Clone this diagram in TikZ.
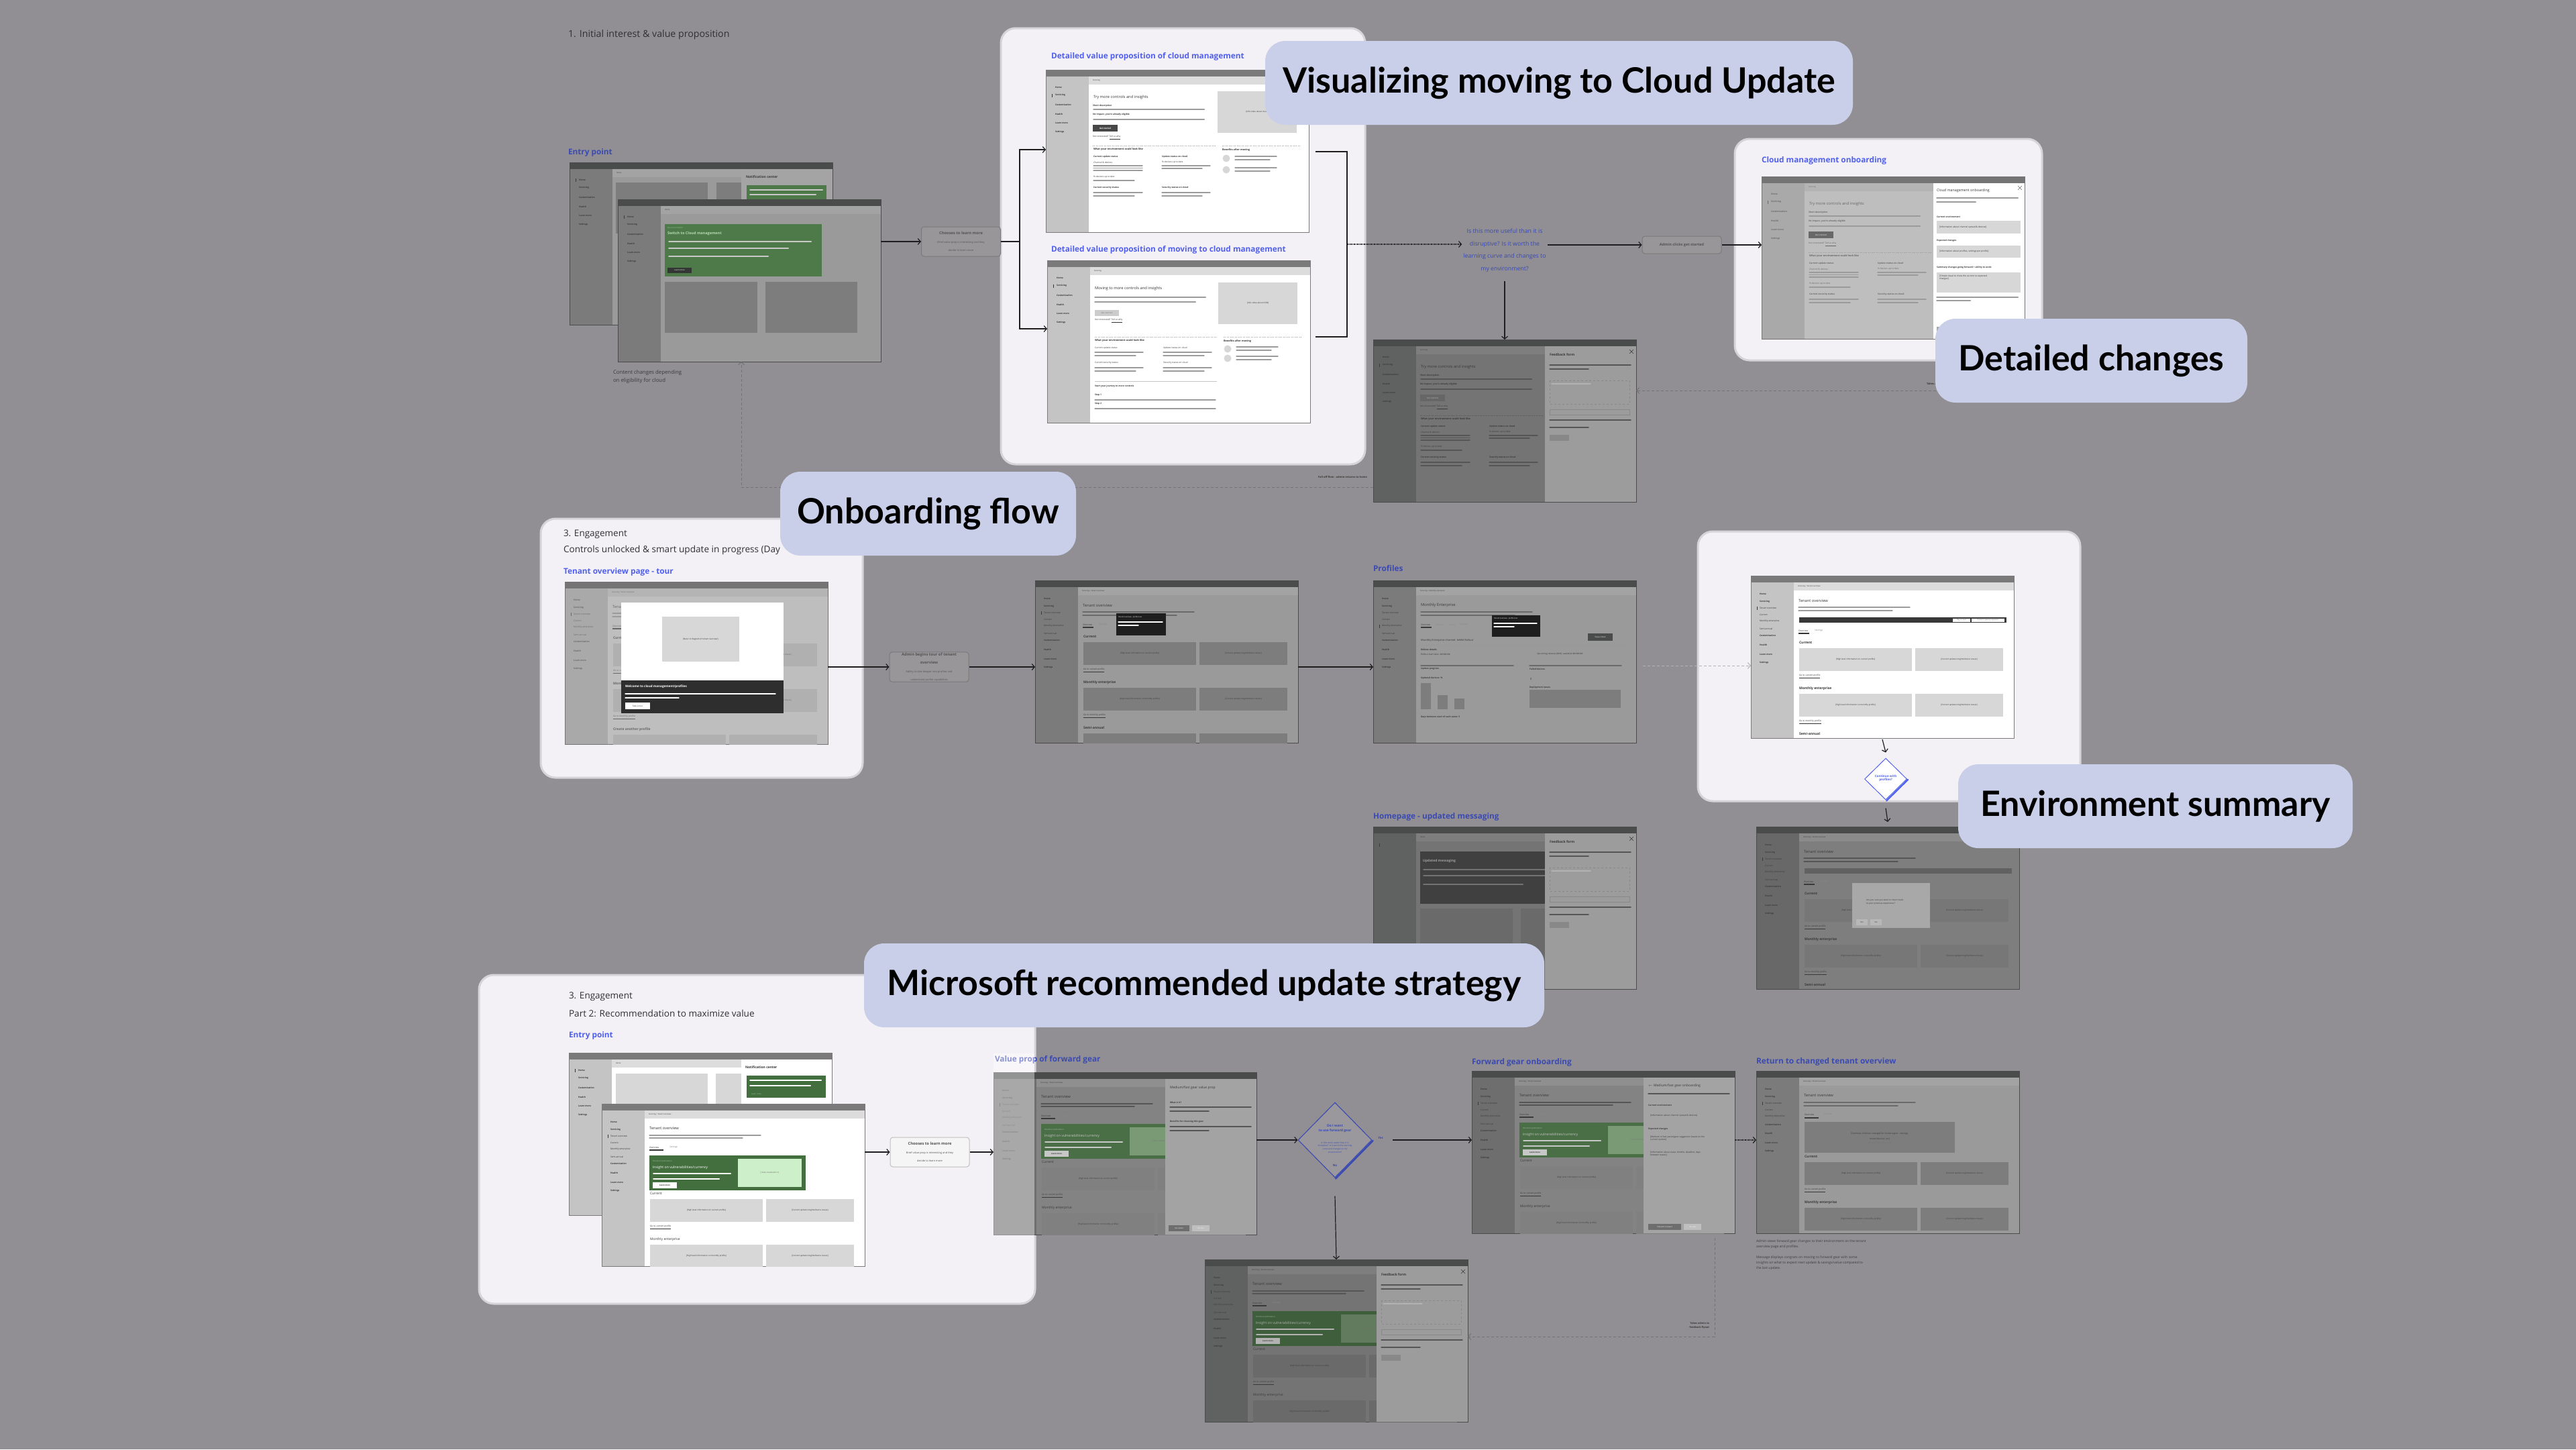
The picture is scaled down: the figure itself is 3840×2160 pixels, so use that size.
\documentclass[tikz,border=0pt]{standalone}
\usepackage{fontspec}
\setmainfont{Open Sans}
\newfontfamily\callfont{Lato}
\usetikzlibrary{arrows.meta,shapes.geometric}

\definecolor{bgc}{HTML}{918F93}
\definecolor{panelc}{HTML}{F4F1F6}
\definecolor{panelb}{HTML}{D6D4D9}
\definecolor{callc}{HTML}{C9CFE8}
\definecolor{blueD}{HTML}{3A4AB2}
\definecolor{blueB}{HTML}{5060EE}
\definecolor{hdC}{HTML}{303030}
\definecolor{lineC}{HTML}{1E1E1E}
\definecolor{dTitle}{HTML}{4A4C4C}
\definecolor{dSide}{HTML}{7B7B7B}
\definecolor{dCont}{HTML}{9A9A9A}
\definecolor{dCrumb}{HTML}{A3A3A3}
\definecolor{dBox}{HTML}{7D7D7D}
\definecolor{dText}{HTML}{3A3A3A}
\definecolor{dBar}{HTML}{6A6A6A}
\definecolor{nCol}{HTML}{A4A4A4}
\definecolor{bTitle}{HTML}{7A7A7A}
\definecolor{bSide}{HTML}{C4C4C4}
\definecolor{bCrumb}{HTML}{DCDCDC}
\definecolor{bBox}{HTML}{D7D7D7}
\definecolor{bText}{HTML}{333333}
\definecolor{barB}{HTML}{9C9C9C}
\definecolor{oTitle}{HTML}{747474}
\definecolor{oSide}{HTML}{A9A9A9}
\definecolor{oCont}{HTML}{BEBEBE}
\definecolor{oCrumb}{HTML}{B4B4B4}
\definecolor{oBox}{HTML}{B0B0B0}
\definecolor{oText}{HTML}{686868}
\definecolor{oBar}{HTML}{9A9A9A}
\definecolor{fSide}{HTML}{606262}
\definecolor{fCont}{HTML}{747474}
\definecolor{fCrumb}{HTML}{7E7E7E}
\definecolor{fBox}{HTML}{6A6A6A}
\definecolor{fBar}{HTML}{555555}
\definecolor{fFly}{HTML}{9C9C9C}
\definecolor{gSide}{HTML}{6E6E6E}
\definecolor{gCont}{HTML}{838383}
\definecolor{gFly}{HTML}{A3A3A3}
\definecolor{cSide}{HTML}{686868}
\definecolor{cCont}{HTML}{7E7E7E}
\definecolor{cBox}{HTML}{777777}
\definecolor{greenD}{HTML}{4E7A49}
\definecolor{greenB}{HTML}{436E3E}
\definecolor{greenL}{HTML}{CDEFC9}
\definecolor{greenG}{HTML}{4A6E45}
\definecolor{greenGL}{HTML}{7A9A76}
\definecolor{wbar}{HTML}{C9C9C9}
\definecolor{ttip}{HTML}{1E1E1E}
\definecolor{fbText}{HTML}{555555}

\newcommand{\fs}[2]{\fontsize{#1}{#2}\selectfont}
\newcommand{\gb}[4]{\draw[line width=2pt, line cap=round, #4] (#1,#2) -- ++(#3,0);}
\newcommand{\gbt}[4]{\draw[line width=1.3pt, line cap=round, #4] (#1,#2) -- ++(#3,0);}
\newcommand{\xic}[3]{\draw[#3, line width=0.5pt] ({#1-3},{#2-3}) -- ({#1+3},{#2+3}) ({#1-3},{#2+3}) -- ({#1+3},{#2-3});}
\newcommand{\fbT}{\fontsize{5.8}{7.5}\selectfont\bfseries}
\newcommand{\fbS}{\fontsize{3.9}{6}\selectfont\mdseries}

\tikzset{
  tt/.style={inner sep=0pt, outer sep=0pt, anchor=west, text=#1, font=\fontsize{3.3}{4}\selectfont},
  tt/.default=bText,
  ttb/.style={tt=#1, font=\fontsize{3.3}{4}\selectfont\bfseries},
  ttb/.default=bText,
  ttc/.style={inner sep=0pt, outer sep=0pt, anchor=center, text=#1, font=\fontsize{3}{3.8}\selectfont},
  ttc/.default=bText,
  lbl/.style={inner sep=0pt, outer sep=0pt, anchor=west, text=#1, font=\fontsize{11.8}{13}\selectfont\bfseries},
  panel/.style={fill=panelc, draw=panelb, line width=3pt, rounded corners=22pt},
  flowbox/.style={draw=#1, fill=bgc!94!white, line width=1pt, rounded corners=4pt, minimum width=118pt, minimum height=44pt, align=center, inner sep=1pt, text=fbText},
  flowbox/.default=black!52,
  callout/.style={fill=callc, rounded corners=30pt, inner sep=0pt, text=black, font=\callfont\bfseries\fontsize{52}{58}\selectfont},
  ln/.style={draw=lineC, line width=1.2pt},
  arw/.style={draw=lineC, line width=1.2pt, -{Straight Barb[length=4pt, width=9pt, line width=1.2pt]}},
  arwdot/.style={arw, dash pattern=on 1.5pt off 1pt},
  dsh/.style={draw=#1, line width=1pt, dash pattern=on 4pt off 3pt, -{Straight Barb[length=4pt, width=9pt, line width=1pt]}},
  dsh/.default=black!55,
  qtext/.style={inner sep=2pt, align=center, text=blueD, font=\fontsize{8.8}{18.5}\selectfont},
}

% screen frame: name, x, y, title, side, content
\newcommand{\scr}[6]{%
  \fill[#6] (#2,#3) rectangle ++(392,242);
  \fill[#5] (#2,{#3+10}) rectangle ++(64,232);
  \fill[#4] (#2,#3) rectangle ++(392,10);
  \draw[#4, line width=1pt] (#2,#3) rectangle ++(392,242);
  \node[inner sep=0pt, outer sep=0pt, minimum width=392pt, minimum height=242pt] (#1) at ({#2+196},{#3+121}) {};
}
\newcommand{\crumb}[3]{%
  \fill[#1] (64,10) rectangle (392,22);
  \node[tt=#2, font=\fs{2.6}{3}] at (70,16) {#3};
}
\newcommand{\sideTry}[2]{%
  \foreach \itm/\yy in {Home/26,Servicing/38,Customization/52,Health/66,Learn more/79,Settings/93}
    \node[ttb=#1] at (14,\yy) {\itm};
  \fill[#1] (9,{#2-2.5}) rectangle (10,{#2+2.5});
}
\newcommand{\sideTen}[2]{%
  \foreach \itm/\yy in {Home/27,Servicing/39,Customization/89,Health/103,Learn more/117,Settings/130}
    \node[ttb=#1] at (13,\yy) {\itm};
  \foreach \itm/\yy in {Tenant overview/48,Current/58,Monthly enterprise/68,Semi-annual/79}
    \node[tt=#1] at (13,\yy) {\itm};
  \fill[#1] (9,{#2-2.5}) rectangle (10,{#2+2.5});
}
\newcommand{\sideTenB}[1]{%
  \foreach \itm/\yy in {Home/27,Servicing/39,Customization/80,Health/93,Learn more/107,Settings/120}
    \node[ttb=#1] at (13,\yy) {\itm};
  \foreach \itm/\yy in {Tenant overview/48,Current/58,Monthly enterprise/68}
    \node[tt=#1] at (13,\yy) {\itm};
  \fill[#1] (9,45.5) rectangle (10,50.5);
}
% try body: text, bar, button, box, button text
\newcommand{\trybody}[5]{%
  \node[tt=#1, font=\fs{5.8}{7}] at (71,41) {Try more controls and insights};
  \node[ttb=#1] at (70,54) {Short description};
  \gb{71}{59}{165}{#2}
  \node[ttb=#1] at (70,67) {No impact, you're already eligible};
  \gb{71}{74}{165}{#2}
  \fill[#3] (70,82) rectangle (107,92);
  \node[ttc=#5, font=\fs{3}{3.5}\bfseries] at (88.5,87) {Get started};
  \node[tt=#1] at (70,101) {Not interested? \underline{Tell us why}};
  \fill[#4] (256,32) rectangle (374,94);
  \node[ttc=#1] at (315,63) {[Info video about cloud]};
  \draw[#2, dotted] (70,113) -- (253,113) (263,113) -- (380,113);
  \node[tt=#1, font=\fs{3.8}{4.5}\bfseries] at (71,119) {What your environment could look like};
  \node[tt=#1, font=\fs{3.8}{4.5}\bfseries] at (263,119) {Benefits after moving};
  \node[ttb=#1] at (71,130) {Current update status};
  \node[tt=#1] at (71,138) {Channel \& devices};
  \gbt{71}{143}{73}{#2} \gbt{71}{146.5}{73}{#2} \gbt{71}{150}{73}{#2}
  \node[tt=#1] at (71,160) {\% devices up to date};
  \gbt{71}{165}{61}{#2}
  \node[ttb=#1] at (71,176) {Current security status};
  \gbt{71}{183}{73}{#2} \gbt{71}{188}{61}{#2}
  \node[ttb=#1] at (173,130) {Update status on cloud};
  \node[tt=#1] at (173,138) {\% devices up to date};
  \gbt{173}{143}{72}{#2} \gbt{173}{147}{60}{#2}
  \node[ttb=#1] at (173,176) {Security status on cloud};
  \gbt{173}{183}{72}{#2} \gbt{173}{188}{60}{#2}
  \fill[#4] (269,132) circle (5.5); \fill[#4] (269,149) circle (5.5);
  \gbt{282}{129}{62}{#2} \gbt{282}{134}{52}{#2} \gbt{282}{146}{62}{#2} \gbt{282}{151}{52}{#2}
}
% tenant body: offset, box, text, bar, third heading
\newcommand{\tenbody}[5]{%
  \node[tt=#3, font=\fs{5.8}{7}] at (71,37) {Tenant overview};
  \gbt{71}{47}{166}{#4} \gbt{71}{52}{140}{#4}
  \node[tt=#3] at (71,{66+#1}) {Overview};
  \node[tt=#3!60] at (95,{66+#1}) {Settings};
  \draw[#3, line width=1.2pt] (71,{70+#1}) -- (87,{70+#1});
  \node[tt=#3, font=\fs{5}{6}\bfseries] at (72,{84+#1}) {Current};
  \fill[#2] (72,{92+#1}) rectangle (240,{126+#1});
  \fill[#2] (245,{92+#1}) rectangle (376,{126+#1});
  \node[ttc=#3] at (156,{109+#1}) {[High level information on current profile]};
  \node[ttc=#3] at (310.5,{109+#1}) {[Current update insights/device issues]};
  \node[tt=#3] at (72,{134+#1}) {\underline{Go to current profile}};
  \node[tt=#3, font=\fs{5}{6}\bfseries] at (72,{152+#1}) {Monthly enterprise};
  \fill[#2] (72,{160+#1}) rectangle (240,{194+#1});
  \fill[#2] (245,{160+#1}) rectangle (376,{194+#1});
  \node[ttc=#3] at (156,{177+#1}) {[High level information on monthly profile]};
  \node[ttc=#3] at (310.5,{177+#1}) {[Current update insights/device issues]};
  \node[tt=#3] at (72,{202+#1}) {\underline{Go to monthly profile}};
  \node[tt=#3, font=\fs{5}{6}\bfseries] at (72,{220+#1}) {#5};
  \fill[#2] (72,{228+#1}) rectangle (240,{262+#1});
  \fill[#2] (245,{228+#1}) rectangle (376,{262+#1});
}
% tenant with green banner: box, text, bar, green, lightgreen, whitebar
\newcommand{\tengreen}[6]{%
  \node[tt=#2, font=\fs{5.8}{7}] at (71,36) {Tenant overview};
  \gbt{71}{47}{166}{#3} \gbt{71}{51}{139}{#3}
  \node[tt=#2] at (71,65) {Overview};
  \node[tt=#2!60] at (101,65) {Settings};
  \draw[#2, line width=1.2pt] (71,69) -- (92,69);
  \fill[#4] (71,77) rectangle (304,129);
  \fill[#5] (203,82) rectangle (298,124);
  \node[ttc=#2!70] at (250.5,103) {[ data visualization ]};
  \node[tt=#4!45!white, font=\fs{2.8}{3}] at (76,86) {Potential optimization};
  \node[tt=#6, font=\fs{5.2}{6}] at (76,95) {Insight on vulnerabilities/currency};
  \gb{77}{104}{115}{#6} \gb{77}{112}{98}{#6}
  \fill[#6] (76,117) rectangle (112,126);
  \node[ttc=#2, font=\fs{2.8}{3}\bfseries] at (94,121.5) {Learn more};
  \node[tt=#2, font=\fs{5}{6}] at (72,134) {Current};
  \fill[#1] (72,142) rectangle (240,176);
  \fill[#1] (245,142) rectangle (376,176);
  \node[ttc=#2] at (156,159) {[High level information on current profile]};
  \node[ttc=#2] at (310.5,159) {[Current update insights/device issues]};
  \node[tt=#2] at (72,184) {\underline{Go to current profile}};
  \node[tt=#2, font=\fs{5}{6}] at (72,202) {Monthly enterprise};
  \fill[#1] (72,210) rectangle (240,244);
  \fill[#1] (245,210) rectangle (376,244);
  \node[ttc=#2] at (156,227) {[High level information on monthly profile]};
  \node[ttc=#2] at (310.5,227) {[Current update insights/device issues]};
}
% feedback flyout: fill, text, bar
\newcommand{\fbfly}[3]{%
  \fill[#1] (256,10) rectangle (392,242);
  \node[tt=#2, font=\fs{5}{6}\bfseries] at (263,23) {Feedback form};
  \xic{385}{18}{#2}
  \gbt{263}{38}{121}{#3} \gbt{263}{44}{58}{#3}
  \draw[#3!70, dashed, line width=0.4pt] (263,61) rectangle (382,96);
  \gbt{266}{66}{58}{#3!45}
  \draw[#3!70, line width=0.4pt] (263,104) rectangle (382,112);
  \gbt{263}{120}{121}{#3} \gbt{263}{131}{58}{#3}
  \fill[#3!70] (263,142) rectangle (292,151);
  \node[ttc=#2!60, font=\fs{2.8}{3}] at (277.5,146.5) {Submit};
}

\begin{document}
\begin{tikzpicture}[x=1pt,y=-1pt]
\useasboundingbox (0,0) rectangle (3840,2160);
\fill[bgc] (0,0) rectangle (3840,2160);

% ================= panels
\path[panel] (1492,42) rectangle (2035,692);
\path[panel] (2586,207) rectangle (3044,537);
\path[panel] (806,773) rectangle (1286,1159);
\path[panel] (2531,792) rectangle (3101,1194);
\path[panel] (714,1453) rectangle (1543,1943);

% ================= section 1
\node[tt=hdC, font=\fs{14.2}{16}] (hdr1) at (847,52) {1. Initial interest \& value proposition};
\node[lbl=blueD] (lb1) at (847,227) {Entry point};

\scr{w1}{849}{242}{dTitle}{dSide}{dCont}
\begin{scope}[shift={(849,242)}]
  \clip (0,0) rectangle (392,242);
  \crumb{dCrumb}{dText}{Home}
  \sideTry{dText}{26}
  \fill[dBox] (69,30) rectangle (206,106);
  \fill[dBox] (219,30) rectangle (256,106);
  \fill[nCol] (256,10) rectangle (392,242);
  \node[tt=dText, font=\fs{5}{6}\bfseries] at (263,22) {Notification center};
  \fill[greenD] (264,34) rectangle (383,62);
  \gb{269}{41}{108}{wbar}
  \gb{269}{48}{98}{wbar}
\end{scope}

\scr{w2}{921}{297}{dTitle}{dSide}{dCont}
\begin{scope}[shift={(921,297)}]
  \clip (0,0) rectangle (392,242);
  \crumb{dCrumb}{dText}{Home}
  \sideTry{dText}{26}
  \fill[greenD] (70,37) rectangle (304,115);
  \node[tt=greenL!60!greenD, font=\fs{2.8}{3}] at (74,42) {Recommendation};
  \node[tt=greenL!80!greenD, font=\fs{5.5}{6.5}\bfseries] at (74,51) {Switch to Cloud management};
  \gb{76}{63}{212}{wbar} \gb{76}{73}{178}{wbar} \gb{76}{85}{148}{wbar}
  \fill[dTitle!70!black] (74,102) rectangle (110,110);
  \node[ttc=white!65, font=\fs{2.8}{3}] at (92,106) {Learn more};
  \fill[dBox] (70,123) rectangle (208,199);
  \fill[dBox] (220,123) rectangle (357,199);
\end{scope}

\node[tt=dText, font=\fs{7.8}{11.8}, anchor=north west, align=left] (note1) at (914,552) {Content changes depending\\on eligibility for cloud};

\node[flowbox] (b1) at (1432.5,360) {\fbT Chooses to learn more\\[1pt]\fbS Brief value prop is interesting and they\\\fbS decide to learn more};
\draw[arw] (b1.west -| w2.east) -- (b1.west);

% value proposition panel
\node[lbl=blueB] (lb2) at (1567,84) {Detailed value proposition of cloud management};
\scr{s1}{1559}{104}{bTitle}{bSide}{white}
\begin{scope}[shift={(1559,104)}]
  \clip (0,0) rectangle (392,242);
  \crumb{bCrumb}{bText}{Servicing}
  \sideTry{bText}{38}
  \trybody{bText}{barB}{black!72}{bBox}{white}
\end{scope}

\node[lbl=blueB] (lb3) at (1567,372) {Detailed value proposition of moving to cloud management};
\scr{s2}{1561}{388}{bTitle}{bSide}{white}
\begin{scope}[shift={(1561,388)}]
  \clip (0,0) rectangle (392,242);
  \crumb{bCrumb}{bText}{Servicing}
  \sideTry{bText}{38}
  \node[tt=bText, font=\fs{5.8}{7}] at (71,42) {Moving to more controls and insights};
  \gb{71}{55}{165}{barB} \gb{71}{62}{150}{barB}
  \fill[black!20] (71,74) rectangle (107,83);
  \node[ttc=bText!50, font=\fs{3}{3.5}\bfseries] at (89,78.5) {Get started};
  \node[tt=bText] at (71,90) {Not interested? \underline{Tell us why}};
  \fill[bBox] (255,33) rectangle (373,95);
  \node[ttc=bText] at (314,64) {[Info video about CDN]};
  \draw[barB, dotted] (71,114) -- (253,114) (263,114) -- (380,114);
  \node[tt=bText, font=\fs{3.8}{4.5}\bfseries] at (71,120) {What your environment could look like};
  \node[tt=bText, font=\fs{3.8}{4.5}\bfseries] at (263,120) {Benefits after moving};
  \node[tt] at (71,131) {Current update status};
  \gbt{71}{137}{72}{barB} \gbt{71}{142}{61}{barB}
  \node[tt] at (71,153) {Current security status};
  \gbt{71}{160}{72}{barB} \gbt{71}{165}{61}{barB}
  \node[tt] at (173,131) {Update status on cloud};
  \gbt{173}{137}{72}{barB} \gbt{173}{142}{61}{barB}
  \node[tt] at (173,153) {Security status on cloud};
  \gbt{173}{160}{72}{barB} \gbt{173}{165}{61}{barB}
  \fill[bBox] (269,132) circle (5.5); \fill[bBox] (269,146) circle (5.5);
  \gbt{282}{129}{62}{barB} \gbt{282}{134}{52}{barB} \gbt{282}{143}{62}{barB} \gbt{282}{148}{52}{barB}
  \draw[barB!60, line width=0.5pt] (71,180) -- (253,180);
  \node[ttb] at (71,188) {Start your journey to more controls};
  \node[ttb] at (71,201) {Step 1};
  \gbt{71}{208}{180}{barB}
  \node[ttb] at (71,214) {Step 2};
  \gbt{71}{221}{180}{barB}
\end{scope}

\coordinate (brL) at (1520,360);
\coordinate (brT) at (1520,223);
\coordinate (brB) at (1520,490);
\draw[ln] (b1.east) -- (brL);
\draw[arw] (brL) -- (brT) -- (brT -| s1.west);
\draw[arw] (brL) -- (brB) -- (brB -| s2.west);
\coordinate (rbT) at (1961,226);
\coordinate (rbB) at (1961,502);
\coordinate (rbM) at (2008,364);
\draw[ln] (rbT) -| (rbM) |- (rbB);

% question
\node[qtext] (q) at (2243,373) {Is this more useful than it is\\disruptive? Is it worth the\\learning curve and changes to\\my environment?};
\draw[arwdot] (rbM) -- (rbM -| q.west);

\node[flowbox, minimum height=26pt, font=\fs{5.5}{6.5}\bfseries] (g1) at (2507,365) {Admin clicks get started};
\draw[arw] (g1.west -| q.east) -- (g1.west);

% cloud onboarding
\node[lbl=blueB] (lb4) at (2626,239) {Cloud management onboarding};
\scr{o1}{2626}{263}{oTitle}{oSide}{oCont}
\begin{scope}[shift={(2626,263)}]
  \clip (0,0) rectangle (392,242);
  \crumb{oCrumb}{oText}{Servicing}
  \sideTry{oText}{38}
  \trybody{oText}{oBar}{oText}{oBox}{oCont}
  \fill[white] (256,10) rectangle (392,242);
  \node[tt=bText, font=\fs{5.3}{6}] at (261,21) {Cloud management onboarding};
  \xic{385}{17}{bText!70}
  \gb{261}{32}{121}{barB} \gb{261}{38}{58}{barB}
  \node[ttb] at (261,60) {Current environment};
  \fill[bBox] (261,66) rectangle (386,85);
  \node[tt] at (265,75.5) {[Information about channel spread \& devices]};
  \node[ttb] at (261,96) {Expected changes};
  \fill[bBox] (261,103) rectangle (386,121);
  \node[tt] at (265,112) {[Information about profiles, settings per profile]};
  \node[ttb] at (261,136) {Summary changes going forward + ability to undo};
  \fill[bBox] (261,143) rectangle (386,173);
  \node[tt, anchor=north west, align=left] at (265,147) {[Simple visual to show the current vs expected\\changes]};
  \gb{261}{180}{121}{barB} \gb{261}{185}{50}{barB}
  \fill[oSide] (261,224) rectangle (292,233);
\end{scope}
\draw[arw] (g1.east) -- (g1.east -| o1.west);

% feedback 1
\scr{fb1}{2047}{506}{dTitle}{fSide}{fCont}
\begin{scope}[shift={(2047,506)}]
  \clip (0,0) rectangle (392,242);
  \crumb{fCrumb}{dText}{Servicing}
  \sideTry{dText}{38}
  \trybody{dText}{fBar}{black!60}{fBox}{fFly}
  \fbfly{fFly}{dText}{fBar}
\end{scope}
\draw[arw] ([yshift=-12pt]q.south) -- (fb1.north);

\node[tt=dText, font=\fs{4}{5}\bfseries, anchor=east] (rh) at (2038,711) {Fall off flow - admin returns to home};
\coordinate (d2) at (1105,726);
\draw[dsh] (d2 -| fb1.west) -- (d2) -- (d2 |- w2.south);

\node[tt=dText, font=\fs{4}{5}\bfseries] (tk1) at (2872,572) {Takes admin to feedback flyout};
\coordinate (d1) at (2900,582);
\draw[dsh] (d1) -- (d1 -| fb1.east);

% ================= middle row
\node[tt=hdC, font=\fs{13.5}{15}] (hdr2) at (840,796) {3. Engagement};
\node[tt=hdC, font=\fs{13.6}{15}] (hdr3) at (840,820) {Controls unlocked \& smart update in progress (Day};
\node[lbl=blueB] (lb5) at (840,852) {Tenant overview page - tour};

\scr{t1}{842}{867}{oTitle}{oSide}{oCont}
\begin{scope}[shift={(842,867)}]
  \clip (0,0) rectangle (392,242);
  \crumb{oCrumb}{oText}{Servicing > Tenant overview}
  \sideTen{oText}{48}
  \tenbody{0}{oBox}{oText}{oBar}{Create another profile}
  \fill[white] (84,31) rectangle (326,147);
  \fill[bBox] (145,52) rectangle (260,119);
  \node[ttc] at (202.5,85.5) {[Basic UI diagram of tenant overview]};
  \fill[black!82] (84,147) rectangle (326,196);
  \node[tt=white, font=\fs{4.6}{5.5}\bfseries] at (90,156) {Welcome to cloud management/profiles};
  \gbt{90}{167}{224}{white} \gbt{90}{173}{80}{white}
  \fill[white] (90,180) rectangle (127,190);
  \node[ttc=bText] at (108.5,185) {Take a tour};
\end{scope}

\node[flowbox] (g2) at (1385,994) {\fbT Admin begins tour of tenant\\\fbT overview\\[1pt]\fbS Ability to dive deeper into profiles and\\\fbS understand profile capabilities};

\scr{t2}{1543}{865}{dTitle}{dSide}{dCont}
\begin{scope}[shift={(1543,865)}]
  \clip (0,0) rectangle (392,242);
  \crumb{dCrumb}{dText}{Servicing > Tenant overview}
  \sideTen{dText}{48}
  \tenbody{0}{dBox}{dText}{dBar}{Semi-annual}
  \fill[ttip] (121,49) rectangle (195,82);
  \node[tt=white!75, font=\fs{2.6}{3}] at (124,55) {Tenant overview - profile tour};
  \gbt{124}{62}{66}{white!65} \gbt{124}{67}{30}{white!65}
\end{scope}

\node[lbl=blueD] (lb6) at (2047,847) {Profiles};
\scr{p1}{2047}{865}{dTitle}{dSide}{dCont}
\begin{scope}[shift={(2047,865)}]
  \clip (0,0) rectangle (392,242);
  \crumb{dCrumb}{dText}{Servicing > Monthly enterprise}
  \sideTen{dText}{68}
  \node[tt=dText, font=\fs{5.8}{7}] at (71,37) {Monthly Enterprise};
  \gbt{71}{47}{166}{dBar} \gbt{71}{52}{140}{dBar}
  \node[tt=dText] at (71,66) {Overview};
  \node[tt=dText!60] at (94,66) {Devices};
  \node[tt=dText!60] at (113,66) {Issues};
  \node[tt=dText!60] at (129,66) {Settings};
  \draw[dText, line width=1.2pt] (71,70) -- (87,70);
  \fill[ttip] (177,52) rectangle (249,84);
  \node[tt=white!75, font=\fs{2.6}{3}] at (180,57) {Tenant overview - profile tour};
  \gbt{180}{64}{64}{white!65} \gbt{180}{69}{30}{white!65}
  \fill[dTitle] (320,79) rectangle (357,90);
  \node[ttc=white!70, font=\fs{2.6}{3}] at (338.5,84.5) {Pause rollout};
  \node[tt=dText, font=\fs{4}{5}] at (71,89) {Monthly Enterprise channel: \#\#\#\# Rollout};
  \draw[dBar!70, line width=0.4pt] (71,96) -- (376,96);
  \node[ttb=dText] at (71,103) {Rollout details};
  \node[tt=dText] at (71,110) {Rollout start date: \#\#/\#\#/\#\#};
  \node[tt=dText] at (244,110) {Upcoming release (\#\#\#): available \#\#/\#\#/\#\#};
  \gbt{71}{127}{138}{dBar} \gbt{233}{127}{137}{dBar}
  \node[ttb=dText] at (71,132) {Update progress};
  \node[ttb=dText] at (233,132) {Failed devices};
  \node[ttb=dText] at (71,146) {Updated devices: \%};
  \fill[dBox] (71,153) rectangle (86,192);
  \fill[dBox] (96,171) rectangle (111,192);
  \fill[dBox] (121,176) rectangle (136,192);
  \node[ttb=dText] at (71,204) {Days between start of each wave: 5};
  \node[tt=dText, font=\fs{4}{5}] at (234,147) {0};
  \node[ttb=dText] at (233,160) {Deployment issues};
  \fill[dBox] (233,163) rectangle (369,190);
\end{scope}

\draw[arw] (g2.west -| t1.east) -- (g2.west);
\draw[arw] (g2.east) -- (g2.east -| t2.west);
\draw[arw] (g2.east -| t2.east) -- (g2.east -| p1.west);

% environment summary
\scr{e1}{2610}{858}{bTitle}{bSide}{white}
\begin{scope}[shift={(2610,858)}]
  \clip (0,0) rectangle (392,242);
  \crumb{bCrumb}{bText}{Servicing > Tenant overview}
  \sideTen{bText}{48}
  \tenbody{16}{bBox}{bText}{barB}{Semi-annual}
  \fill[black!78] (72,62) rectangle (381,70);
  \fill[white] (301,63.5) rectangle (327,68.5);
  \node[ttc, font=\fs{2.2}{2.5}] at (314,66) {Stay on cloud};
  \fill[white] (329,63.5) rectangle (378,68.5);
  \node[ttc, font=\fs{2.2}{2.5}] at (353.5,66) {Go back to previous experience};
\end{scope}
\coordinate (d3) at (2449,992);
\draw[dsh=black!30] (d3) -- (d3 -| e1.west);

\node[diamond, draw=blueB, fill=white, line width=1pt, minimum width=63pt, minimum height=62pt, inner sep=0pt] (dm1) at (2811,1161) {};
\draw[blueB, line width=2.2pt, line cap=round] ([xshift=1pt,yshift=-1pt]dm1.east) -- ([xshift=1pt,yshift=-1pt]dm1.south);
\node[ttc=blueB, font=\fs{4.6}{5.4}\bfseries, align=center] at (2811,1160) {Continue with\\profiles?};
\draw[arw] ([yshift=-2pt]e1.south) -- ([yshift=8pt]dm1.north);

\scr{c1}{2618}{1232}{dTitle}{cSide}{cCont}
\begin{scope}[shift={(2618,1232)}]
  \clip (0,0) rectangle (392,242);
  \crumb{cCont!90!white}{dText}{Servicing > Tenant overview}
  \sideTen{dText}{48}
  \tenbody{16}{cBox}{dText}{fBar}{Semi-annual}
  \fill[black!62] (72,62) rectangle (381,70);
  \fill[black!34] (143,84) rectangle (259,151);
  \node[tt=dText, anchor=north west, align=left, font=\fs{3.2}{4.6}] at (164,108) {Are you sure you want to return back\\to your previous experience?};
  \fill[black!28] (149,138) rectangle (166,147);
  \node[ttc=dText] at (157.5,142.5) {Yes};
  \fill[black!28] (170,138) rectangle (187,147);
  \node[ttc=dText] at (178.5,142.5) {No};
\end{scope}
\draw[arw] ([yshift=-12pt]dm1.south) -- ([yshift=7pt]c1.north);

\node[lbl=blueD] (lb7) at (2047,1217) {Homepage - updated messaging};
\scr{h1}{2047}{1232}{dTitle}{fSide}{fCont}
\begin{scope}[shift={(2047,1232)}]
  \clip (0,0) rectangle (392,242);
  \crumb{fCrumb}{dText}{Home}
  \node[tt=dText!80] at (14,27) {Home};
  \foreach \itm/\yy in {Servicing/39,Customization/52,Health/66,Learn more/79,Settings/93}
    \node[tt=dText!80] at (14,\yy) {\itm};
  \fill[dText] (9,24.5) rectangle (10,29.5);
  \fill[black!75] (70,37) rectangle (256,115);
  \node[tt=black!38, font=\fs{5}{6}\bfseries] at (74,51) {Updated messaging};
  \gb{75}{64}{181}{black!55} \gb{75}{73}{181}{black!55} \gb{75}{86}{148}{black!55}
  \fill[fBox] (70,122) rectangle (208,242);
  \fill[fBox] (220,122) rectangle (256,242);
  \fbfly{fFly}{dText}{fBar}
\end{scope}

% ================= bottom section
\node[tt=hdC, font=\fs{13.5}{15}] (hdr4) at (848,1485) {3. Engagement};
\node[tt=hdC, font=\fs{13.6}{15}] (hdr5) at (848,1510) {Part 2: Recommendation to maximize value};
\node[lbl=blueB] (lb8) at (848,1543) {Entry point};

\scr{bw}{848}{1569}{bTitle}{bSide}{white}
\begin{scope}[shift={(848,1569)}]
  \clip (0,0) rectangle (392,242);
  \crumb{bCrumb}{bText}{Home}
  \sideTry{bText}{26}
  \fill[bBox] (70,31) rectangle (207,120);
  \fill[bBox] (219,31) rectangle (257,120);
  \fill[white] (257,10) rectangle (392,242);
  \node[tt=bText, font=\fs{5}{6}\bfseries] at (263,22) {Notification center};
  \fill[greenB] (265,34) rectangle (383,67);
  \gb{270}{41}{106}{white} \gb{270}{49}{90}{white}
  \node[tt=greenL!70!greenB, font=\fs{2.8}{3}] at (272,61) {Learn more};
\end{scope}

\scr{fw}{897}{1645}{bTitle}{bSide}{white}
\begin{scope}[shift={(897,1645)}]
  \clip (0,0) rectangle (392,242);
  \crumb{bCrumb}{bText}{Servicing > Tenant overview}
  \sideTen{bText}{48}
  \tengreen{bBox}{bText}{barB}{greenB}{greenL}{white}
\end{scope}

\node[flowbox=black!25, fill=white!96!black] (g3) at (1386,1717) {\fbT Chooses to learn more\\[1pt]\fbS Brief value prop is interesting and they\\\fbS decide to learn more};
\draw[arw] (g3.west -| fw.east) -- (g3.west);

\node[lbl=blueD] (lb9) at (1483,1579) {Value prop of forward gear};
\scr{v1}{1481}{1598}{dTitle}{gSide}{gCont}
\begin{scope}[shift={(1481,1598)}]
  \clip (0,0) rectangle (392,242);
  \crumb{gCont!90!white}{dText}{Servicing > Tenant overview}
  \sideTen{dText}{48}
  \tengreen{black!50}{dText}{fBar}{greenG}{greenGL}{black!22}
  \fill[gFly] (256,10) rectangle (392,242);
  \node[tt=dText, font=\fs{5}{6}] at (263,23) {Medium/fast gear value prop};
  \node[ttb=dText] at (263,45) {What is it?};
  \gbt{263}{52}{121}{fBar} \gbt{263}{58}{58}{fBar}
  \node[ttb=dText] at (263,74) {Benefits for choosing this gear};
  \gbt{263}{81}{121}{fBar} \gbt{263}{87}{58}{fBar}
  \fill[gSide] (261,228) rectangle (292,237);
  \node[ttc=white!70, font=\fs{2.4}{3}] at (276.5,232.5) {Get started};
  \fill[black!25] (296,228) rectangle (322,237);
  \node[ttc=white!80, font=\fs{2.4}{3}] at (309,232.5) {Not now};
\end{scope}
\fill[white, opacity=0.4] (1481,1570) rectangle (1542,1841);
\draw[arw] (g3.east) -- (g3.east -| v1.west);

\node[diamond, draw=blueD, fill=bgc!92!white, line width=1.1pt, minimum width=110pt, minimum height=112pt, inner sep=0pt] (dm2) at (1990,1699) {};
\draw[blueD, line width=2.4pt, line cap=round] ([xshift=1pt,yshift=-1pt]dm2.east) -- ([xshift=1pt,yshift=-1pt]dm2.south);
\node[ttc=blueD, font=\fs{5}{6.6}\bfseries, align=center] at (1990,1682) {Do I want\\to use forward gear};
\node[ttc=blueD, font=\fs{3.2}{4.6}, align=center] at (1990,1710) {Is this more useful than it is\\disruptive? Is it worth the learning\\curve and changes to my\\environment?};
\node[ttc=blueD, font=\fs{4.5}{5}\bfseries] at (1990,1737) {No};
\node[ttc=blueD, font=\fs{4.5}{5}\bfseries] (yes) at (2058,1696) {Yes};
\draw[arw] (dm2.west -| v1.east) -- (dm2.west);

\node[lbl=blueD] (lb10) at (2194,1583) {Forward gear onboarding};
\scr{fg}{2194}{1596}{dTitle}{gSide}{gCont}
\begin{scope}[shift={(2194,1596)}]
  \clip (0,0) rectangle (392,242);
  \crumb{gCont!90!white}{dText}{Servicing > Tenant overview}
  \sideTen{dText}{48}
  \tengreen{black!50}{dText}{fBar}{greenG}{greenGL}{black!22}
  \fill[gFly] (256,10) rectangle (392,242);
  \node[tt=dText, font=\fs{5}{6}] at (263,22) {$\leftarrow$ Medium/fast gear onboarding};
  \gbt{263}{34}{121}{fBar}
  \node[ttb=dText] at (263,51) {Current environment};
  \fill[black!36] (263,58) rectangle (387,76);
  \node[tt=dText] at (266,67) {[Information about channel spread \& devices]};
  \node[ttb=dText] at (263,87) {Expected changes};
  \fill[black!36] (263,94) rectangle (387,113);
  \node[tt=dText, anchor=north west, align=left] at (266,97) {[Medium or fast paced gear suggestion based on the\\current system]};
  \fill[black!36] (263,117) rectangle (387,135);
  \node[tt=dText, anchor=north west, align=left] at (266,120) {[Information about wave, throttle, deadline, days\\between waves]};
  \fill[gSide] (263,228) rectangle (312,237);
  \node[ttc=white!70, font=\fs{2.4}{3}] at (287.5,232.5) {Onboard to forward};
  \fill[black!25] (316,228) rectangle (342,237);
  \node[ttc=white!80, font=\fs{2.4}{3}] at (329,232.5) {Not now};
\end{scope}
\draw[arw] ([xshift=30pt]dm2.east) -- (dm2.east -| fg.west);

\node[lbl=blueD] (lb11) at (2618,1582) {Return to changed tenant overview};
\scr{r1}{2618}{1596}{dTitle}{dSide}{dCont}
\begin{scope}[shift={(2618,1596)}]
  \clip (0,0) rectangle (392,242);
  \crumb{dCrumb}{dText}{Servicing > Tenant overview}
  \sideTenB{dText}
  \node[tt=dText, font=\fs{5.8}{7}] at (71,36) {Tenant overview};
  \gbt{71}{47}{166}{dBar} \gbt{71}{52}{140}{dBar}
  \node[tt=dText] at (72,65) {Overview};
  \node[tt=dText!60] at (101,65) {Settings};
  \draw[dText, line width=1.2pt] (72,70) -- (93,70);
  \fill[dBox] (72,76) rectangle (296,122);
  \node[ttc=dText, align=center, font=\fs{3.3}{8}] at (184,97) {[Summary of what's changed for forward gear - settings,\\moved devices, etc]};
  \node[ttc=dText!70, font=\fs{2.6}{3}] at (184,107.5) {Msg: Can dismiss this message};
  \node[tt=dText, font=\fs{5}{6}\bfseries] at (72,128) {Current};
  \fill[dBox] (72,136) rectangle (240,170);
  \fill[dBox] (245,136) rectangle (376,170);
  \node[ttc=dText] at (156,153) {[High level information on current profile]};
  \node[ttc=dText] at (310.5,153) {[Current update insights/device issues]};
  \node[tt=dText] at (72,178) {\underline{Go to current profile}};
  \node[tt=dText, font=\fs{5}{6}\bfseries] at (72,196) {Monthly enterprise};
  \fill[dBox] (72,204) rectangle (240,238);
  \fill[dBox] (245,204) rectangle (376,238);
  \node[ttc=dText] at (156,221) {[High level information on monthly profile]};
  \node[ttc=dText] at (310.5,221) {[Current update insights/device issues]};
\end{scope}
\draw[arwdot] (dm2.east -| fg.east) -- (dm2.east -| r1.west);

\node[tt=dText, anchor=north west, align=left, font=\fs{5}{8}] (note2) at (2618,1848) {Admin views forward gear changes to their environment on the tenant\\overview page and profiles.\\[8pt]Message displays congrats on moving to forward gear with some\\insights on what to expect next update \& savings/value compared to\\the last update.};

\scr{fb2}{1796}{1877}{dTitle}{fSide}{fCont}
\begin{scope}[shift={(1796,1877)}]
  \clip (0,0) rectangle (392,242);
  \crumb{fCrumb}{dText}{Servicing > Tenant overview}
  \sideTen{dText}{48}
  \tengreen{fBox}{dText}{fBar}{greenG!85!black}{greenGL!80!black}{black!30}
  \fbfly{fFly}{dText}{fBar}
\end{scope}
\draw[arw] ([yshift=-27pt]dm2.south) -- (fb2.north);

\coordinate (d4) at (2556,1992);
\draw[dsh] ([yshift=-7pt]d4 |- fg.south) -- (d4) -- (d4 -| fb2.east);
\node[ttc=dText, align=right, anchor=east, font=\fs{3.8}{6}\bfseries] (tk2) at (2548,1975) {Takes admin to\\feedback flyout};

% ================= callouts
\node[callout, minimum width=876pt, minimum height=125pt] (c_vis) at (2324,123.5) {Visualizing moving to Cloud Update};
\node[callout, minimum width=465pt, minimum height=125pt] (c_det) at (3117.5,537.5) {Detailed changes};
\node[callout, minimum width=441pt, minimum height=125pt] (c_onb) at (1383.5,765.5) {Onboarding flow};
\node[callout, minimum width=588pt, minimum height=125pt] (c_env) at (3213,1201.5) {Environment summary};
\node[callout, minimum width=1014pt, minimum height=125pt] (c_ms) at (1795,1468.5) {Microsoft recommended update strategy};

\end{tikzpicture}
\end{document}
